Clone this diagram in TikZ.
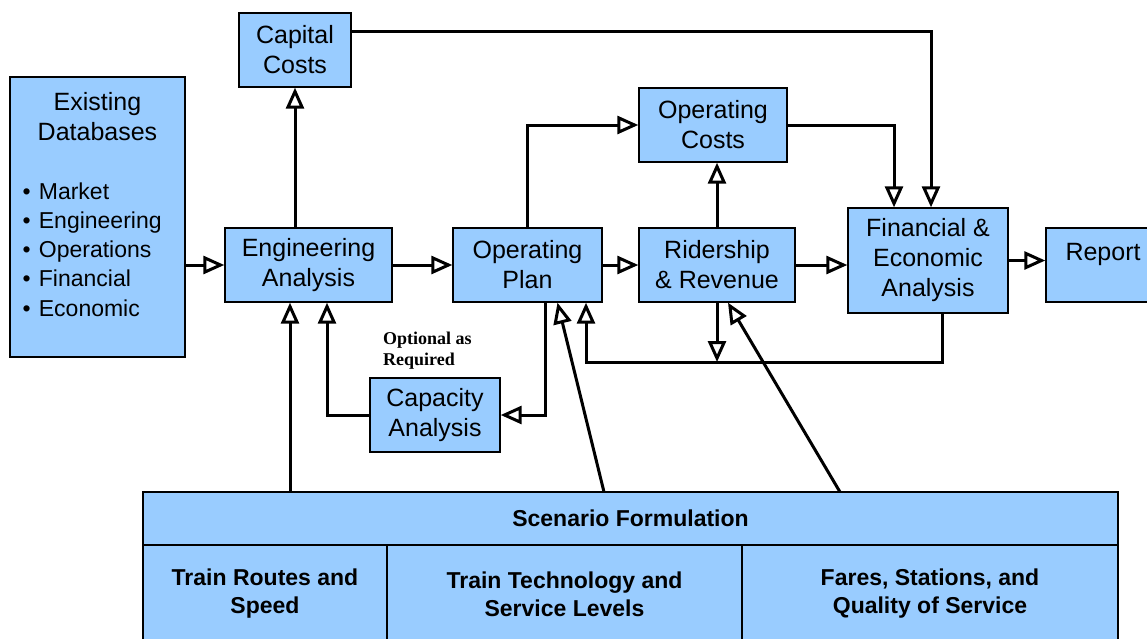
\documentclass[tikz,border=0pt]{standalone}
\usepackage{fontspec}
\setmainfont{Liberation Sans}
\newfontfamily\notefont{Liberation Serif}
\usetikzlibrary{arrows.meta,calc,positioning}
\definecolor{boxblue}{RGB}{153,204,255}

\begin{document}
\begin{tikzpicture}[x=1pt,y=-1pt,font=\fontsize{25}{30}\selectfont,
  >={Triangle[length=21pt,width=18pt,fill=white]},
  box/.style={draw=black,fill=boxblue,line width=1.4pt,inner sep=2pt,align=center},
  scen/.style={box,font=\fontsize{23}{28}\selectfont\bfseries},
  conn/.style={->,line width=3pt}]
 \useasboundingbox (0,0) rectangle (1147,638);
 \clip (0,0) rectangle (1147,638);
 % boxes
 \node[box,minimum width=112,minimum height=74] (capcost) at (295,50) {Capital\\Costs};
 \node[box,minimum width=175,minimum height=280,text width=160] (existdb) at (97.5,217)
   {Existing\\Databases\\[30pt]
    \fontsize{23}{29}\selectfont
    \makebox[150pt][l]{• Market}\\
    \makebox[150pt][l]{• Engineering}\\
    \makebox[150pt][l]{• Operations}\\
    \makebox[150pt][l]{• Financial}\\
    \makebox[150pt][l]{• Economic}\rule[-26pt]{0pt}{1pt}};
 \node[box,minimum width=167,minimum height=74] (enganal) at (308.5,265) {Engineering\\Analysis};
 \node[box,minimum width=149,minimum height=74] (opplan) at (527.5,265) {Operating\\Plan};
 \node[box,minimum width=148,minimum height=74] (opcost) at (713,125) {Operating\\Costs};
 \node[box,minimum width=156,minimum height=74] (ridership) at (717,265) {Ridership\\\& Revenue};
 \node[box,minimum width=160,minimum height=105] (finecon) at (928,260.5) {Financial \&\\Economic\\Analysis};
 \node[box,minimum width=114,minimum height=74,text depth=26pt] (report) at (1103,265) {Report};
 \node[box,minimum width=130,minimum height=74] (capacity) at (435,415) {Capacity\\Analysis};
 \node[anchor=north west,inner sep=0,align=left,
   font=\notefont\fontsize{18}{21}\selectfont\bfseries] (optnote) at (383,332) {Optional as\\Required};
 % scenario block
 \node[scen,minimum width=975,minimum height=53] (scenario) at (630.5,518.5) {Scenario Formulation};
 \node[scen,minimum width=244,minimum height=98] (routes) at (265,594) {Train Routes and\\Speed};
 \node[scen,minimum width=355,minimum height=98] (technology) at (564.5,594) {Train Technology and\\Service Levels};
 \node[scen,minimum width=376,minimum height=98] (fares) at (930,594) {Fares, Stations, and\\Quality of Service};
 % connectors
 \draw[conn] (existdb.east |- enganal.west) -- (enganal.west);
 \draw[conn] (enganal.north -| capcost.south) -- (capcost.south);
 \draw[conn] (enganal) -- (opplan);
 \draw[conn] (opplan.north) |- (opcost.west);
 \draw[conn] (opplan) -- (ridership);
 \draw[conn] (ridership.north) -- (ridership.north |- opcost.south);
 \draw[conn] (ridership.east) -- (ridership.east -| finecon.west);
 \coordinate (fin1) at ([xshift=-34]finecon.north);
 \coordinate (fin2) at ([xshift=3]finecon.north);
 \draw[conn] (opcost.east) -| (fin1);
 \draw[conn] ([yshift=19]capcost.east) -| (fin2);
 \draw[conn] (finecon.east) -- (finecon.east -| report.west);
 % feedback loop
 \coordinate (fbleft) at (586,362);
 \coordinate (fbright) at ([xshift=14]finecon.south);
 \draw[conn] (fbright) |- (fbleft) -- (fbleft |- opplan.south);
 \draw[conn] (ridership.south) -- (ridership.south |- fbleft);
 % capacity loop
 \coordinate (opcap) at ([xshift=17.5]opplan.south);
 \draw[conn] (opcap) |- (capacity.east);
 \coordinate (capeng) at ([xshift=18.5]enganal.south);
 \draw[conn] (capacity.west) -| (capeng);
 % scenario inputs
 \coordinate (sceng) at ([xshift=-18.5]enganal.south);
 \draw[conn] (sceng |- scenario.north) -- (sceng);
 \coordinate (scop) at (604,492);
 \draw[conn] (scop) -- ([xshift=30]opplan.south);
 \coordinate (scrid) at (840,492);
 \draw[conn] (scrid) -- ([xshift=11]ridership.south);
\end{tikzpicture}
\end{document}
